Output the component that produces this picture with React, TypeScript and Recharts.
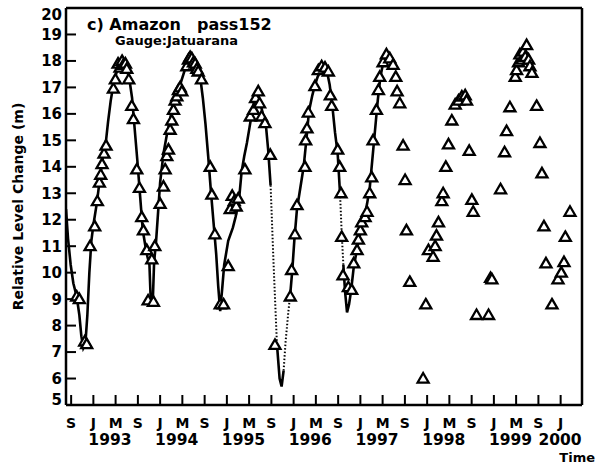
import React from 'react';
import { ComposedChart, Line, Scatter, XAxis, YAxis } from 'recharts';

// ---- Gauge (Jatuarana) daily level, decimal years / metres ----
const GAUGE_TIME = [
  1992.59, 1992.62, 1992.66, 1992.70, 1992.75, 1992.79, 1992.82, 1992.85, 1992.88, 1992.91,
  1992.94, 1992.97, 1993.00, 1993.05, 1993.10, 1993.15, 1993.19, 1993.22, 1993.26, 1993.30,
  1993.34, 1993.38, 1993.42, 1993.46, 1993.50, 1993.54, 1993.58, 1993.62, 1993.66, 1993.70,
  1993.74, 1993.78, 1993.81, 1993.84, 1993.86, 1993.89, 1993.91, 1993.94, 1993.97, 1994.00,
  1994.05, 1994.10, 1994.15, 1994.20, 1994.25, 1994.30, 1994.35, 1994.40, 1994.45, 1994.50,
  1994.55, 1994.60, 1994.64, 1994.68, 1994.72, 1994.76, 1994.80, 1994.84, 1994.87, 1994.90,
  1994.93, 1994.96, 1995.02, 1995.09, 1995.13, 1995.18, 1995.22, 1995.26, 1995.30, 1995.34,
  1995.38, 1995.42, 1995.46, 1995.50, 1995.54, 1995.58, 1995.62, 1995.655, 1995.70, 1995.75,
  1995.79, 1995.82, 1995.85, 1995.88, 1995.92, 1995.95, 1995.98, 1996.01, 1996.05, 1996.10,
  1996.15, 1996.19, 1996.23, 1996.28, 1996.32, 1996.36, 1996.41, 1996.46, 1996.50, 1996.54,
  1996.58, 1996.62, 1996.66, 1996.695, 1996.72, 1996.745, 1996.77, 1996.80, 1996.83, 1996.86,
  1996.90, 1996.95, 1997.00, 1997.05, 1997.10, 1997.14, 1997.18, 1997.22, 1997.26, 1997.30,
  1997.34, 1997.38, 1997.42,
];
const GAUGE_LEVEL = [
  12.4, 11.3, 10.3, 9.6, 9.1, 8.4, 7.6, 7.15, 7.3, 8.4,
  10.0, 11.2, 11.8, 12.6, 13.6, 14.5, 15.0, 15.7, 16.5, 17.1,
  17.5, 17.85, 18.05, 17.95, 17.7, 17.3, 16.6, 15.4, 14.2, 12.9,
  11.6, 11.0, 10.6, 10.3, 8.9, 8.9, 10.4, 11.2, 12.3, 13.4,
  14.5, 15.2, 15.8, 16.5, 16.9, 17.1, 17.5, 17.9, 18.15, 18.1,
  17.9, 17.4, 16.6, 15.6, 14.4, 13.1, 11.9, 10.7, 9.5, 8.55,
  9.4, 10.3, 11.2, 11.7, 12.1, 12.7, 13.8, 14.4, 14.9, 15.5,
  16.1, 16.6, 16.8, 16.4, 16.0, 15.7, 14.6, 13.3, 10.3, 7.3,
  6.0, 5.7, 6.3, 7.4, 8.5, 9.2, 10.1, 11.2, 12.4, 13.2,
  14.0, 15.0, 16.1, 16.7, 17.1, 17.4, 17.65, 17.75, 17.6, 17.1,
  16.3, 15.3, 14.5, 13.0, 11.5, 10.3, 9.3, 8.5, 8.8, 9.3,
  10.2, 10.9, 11.5, 12.0, 12.6, 13.2, 14.3, 15.4, 16.5, 17.4,
  17.9, 18.2, 18.3,
];
// spans where the gauge record is drawn dotted
const DOTTED_SPANS = [
  [1995.655, 1995.75],
  [1995.85, 1995.95],
  [1996.695, 1996.745],
];

// ---- TOPEX altimetry, pass 152 ----
const ALT_TIME = [
  1992.75, 1992.79, 1992.87, 1992.90,
  1992.95, 1993.02, 1993.06, 1993.09, 1993.11, 1993.13, 1993.16, 1993.19, 1993.30, 1993.33,
  1993.37, 1993.40, 1993.43, 1993.45, 1993.48, 1993.50, 1993.53, 1993.575, 1993.60,
  1993.65, 1993.69, 1993.725, 1993.75, 1993.80, 1993.82, 1993.875, 1993.90, 1993.92,
  1994.00, 1994.05, 1994.075, 1994.10, 1994.125, 1994.15, 1994.175, 1994.20, 1994.225,
  1994.25, 1994.275, 1994.30, 1994.325, 1994.40, 1994.425, 1994.45, 1994.475, 1994.50,
  1994.525, 1994.55, 1994.57, 1994.62, 1994.75, 1994.775, 1994.82, 1994.90, 1994.95,
  1995.02, 1995.05, 1995.08, 1995.11, 1995.14, 1995.17, 1995.27, 1995.35, 1995.40,
  1995.43, 1995.47, 1995.49, 1995.52, 1995.57, 1995.65, 1995.72,
  1995.95, 1995.97, 1996.02, 1996.05, 1996.17, 1996.18, 1996.20, 1996.22, 1996.32,
  1996.37, 1996.42, 1996.47, 1996.52, 1996.55, 1996.57, 1996.66, 1996.69, 1996.71,
  1996.72, 1996.74, 1996.82, 1996.87, 1996.90, 1996.95, 1996.97, 1997.00, 1997.02,
  1997.07, 1997.10, 1997.14, 1997.17, 1997.19, 1997.24, 1997.27, 1997.29, 1997.34,
  1997.39, 1997.44, 1997.49, 1997.53, 1997.55, 1997.59, 1997.64, 1997.67, 1997.69,
  1997.74, 1997.94, 1997.98, 1998.02, 1998.09, 1998.12, 1998.14, 1998.17, 1998.22,
  1998.24, 1998.28, 1998.32, 1998.37, 1998.42, 1998.47, 1998.52, 1998.57, 1998.59,
  1998.63, 1998.67, 1998.69, 1998.74, 1998.92, 1998.95, 1998.97, 1999.10, 1999.16,
  1999.19, 1999.24, 1999.32, 1999.34, 1999.37, 1999.39, 1999.42, 1999.44, 1999.47,
  1999.49, 1999.52, 1999.54, 1999.57, 1999.64, 1999.69, 1999.72, 1999.75, 1999.78,
  1999.87, 1999.96, 2000.01, 2000.05, 2000.07, 2000.14,
];
const ALT_LEVEL = [
  9.1, 9.0, 7.4, 7.3,
  11.0, 11.75, 12.7, 13.4, 13.7, 14.1, 14.5, 14.8, 16.95, 17.3,
  17.9, 17.75, 18.0, 17.85, 17.9, 17.7, 17.3, 16.3, 15.8,
  13.9, 13.2, 12.1, 11.6, 10.85, 8.95, 10.5, 8.9, 11.0,
  12.6, 13.25, 13.9, 14.4, 14.65, 15.4, 15.75, 16.15, 16.5,
  16.66, 16.9, 17.0, 16.85, 17.8, 18.05, 18.15, 18.1, 17.95,
  17.9, 17.7, 17.6, 17.3, 14.0, 12.95, 11.45, 8.8, 8.8,
  10.25, 12.4, 12.9, 12.7, 12.5, 12.8, 13.9, 15.9, 16.15,
  16.6, 16.85, 16.4, 15.9, 15.65, 14.45, 7.27,
  9.1, 10.1, 11.45, 12.55, 14.0, 15.0, 15.45, 16.05, 17.05,
  17.65, 17.8, 17.75, 17.6, 16.7, 16.3, 14.65, 14.0, 13.0,
  11.35, 9.9, 9.45, 9.35, 10.35, 10.85, 11.25, 11.6, 11.9,
  12.1, 12.3, 13.0, 13.6, 15.0, 16.15, 16.9, 17.4, 17.95,
  18.25, 18.1, 17.85, 17.4, 16.85, 16.4, 14.8, 13.5, 11.6,
  9.65, 6.0, 8.8, 10.85, 10.6, 11.0, 11.4, 11.9, 12.7,
  13.0, 14.0, 14.85, 15.75, 16.35, 16.5, 16.65, 16.7, 16.5,
  14.6, 12.75, 12.3, 8.4, 8.4, 9.8, 9.75, 13.15, 14.55,
  15.35, 16.25, 17.4, 17.65, 17.95, 18.25, 18.05, 18.35, 18.15,
  18.6, 18.05, 17.8, 17.55, 16.3, 14.9, 13.75, 11.75, 10.35,
  8.8, 9.75, 10.0, 10.4, 11.35, 12.3,
];

// ---- axes ----
const X_DOMAIN = [1992.59, 2000.32];
const X_TICKS = [
  1992.667, 1993, 1993.333, 1993.667, 1994, 1994.333, 1994.667, 1995, 1995.333, 1995.667,
  1996, 1996.333, 1996.667, 1997, 1997.333, 1997.667, 1998, 1998.333, 1998.667, 1999,
  1999.333, 1999.667, 2000,
];
const X_TICK_LABELS = [
  'S', 'J', 'M', 'S', 'J', 'M', 'S', 'J', 'M', 'S',
  'J', 'M', 'S', 'J', 'M', 'S', 'J', 'M', 'S', 'J',
  'M', 'S', 'J',
];
const YEAR_TICKS = [1993, 1994, 1995, 1996, 1997, 1998, 1999, 2000];
const YEAR_LABELS = ['1993', '1994', '1995', '1996', '1997', '1998', '1999', '2000'];
const Y_TICKS = [5, 6, 7, 8, 9, 10, 11, 12, 13, 14, 15, 16, 17, 18, 19, 20];

const FONT = '"DejaVu Sans", Arial, sans-serif';

const inSpan = (t: number, strict: boolean) =>
  DOTTED_SPANS.some(([a, b]) => (strict ? t > a && t < b : t >= a && t <= b));

const gaugeRows = GAUGE_TIME.map((t, i) => ({
  t,
  solid: inSpan(t, true) ? null : GAUGE_LEVEL[i],
  dotted: inSpan(t, false) ? GAUGE_LEVEL[i] : null,
}));
const altRows = ALT_TIME.map((t, i) => ({ t, h: ALT_LEVEL[i] }));

const Triangle = (props: any) => {
  const { cx, cy } = props;
  if (cx == null || cy == null) return null;
  return (
    <path
      d={`M${cx},${cy - 5.5}L${cx + 5.5},${cy + 4}L${cx - 5.5},${cy + 4}Z`}
      fill="#fff"
      stroke="#000"
      strokeWidth={2.3}
    />
  );
};

const XTick = (props: any) => {
  const { x, y, payload } = props;
  const idx = X_TICKS.indexOf(payload.value);
  const label = idx >= 0 ? X_TICK_LABELS[idx] : '';
  const yIdx = YEAR_TICKS.indexOf(payload.value);
  const isLast = yIdx === YEAR_TICKS.length - 1;
  return (
    <g>
      <text x={x} y={y + 13} textAnchor="middle" fontFamily={FONT} fontWeight="bold" fontSize={14} fill="#000">
        {label}
      </text>
      {yIdx >= 0 && (
        <text
          x={isLast ? x + 21 : x - 5}
          y={y + 30}
          textAnchor={isLast ? 'end' : 'start'}
          fontFamily={FONT}
          fontWeight="bold"
          fontSize={15.5}
          fill="#000"
        >
          {YEAR_LABELS[yIdx]}
        </text>
      )}
    </g>
  );
};

const YTick = (props: any) => {
  const { x, y, payload } = props;
  const v = payload.value;
  const shift = v === 20 ? 7 : v === 5 ? -5 : 0;
  return (
    <text x={x} y={y + shift} dy="0.36em" textAnchor="end" fontFamily={FONT} fontWeight="bold" fontSize={15} fill="#000">
      {v}
    </text>
  );
};

const YLabel = (props: any) => {
  const vb = props.viewBox || {};
  const cx = 18;
  const cy = (vb.y ?? 8) + (vb.height ?? 397) / 2;
  return (
    <text
      x={cx}
      y={cy}
      transform={`rotate(-90 ${cx} ${cy})`}
      textAnchor="middle"
      dy="0.36em"
      fontFamily={FONT}
      fontWeight="bold"
      fontSize={14}
      fill="#000"
    >
      Relative Level Change (m)
    </text>
  );
};

const TimeLabel = (props: any) => {
  const vb = props.viewBox || {};
  const x = (vb.x ?? 66) + (vb.width ?? 516) + 13;
  const y = (vb.y ?? 405) + 57;
  return (
    <text x={x} y={y} textAnchor="end" fontFamily={FONT} fontWeight="bold" fontSize={13} fill="#000">
      Time
    </text>
  );
};

export default function App() {
  const axisLine = { stroke: '#000', strokeWidth: 2.5 };
  const tickLine = { stroke: '#000', strokeWidth: 2 };
  return (
    <div style={{ position: 'absolute', left: 0, top: 0, background: '#fff' }}>
      <ComposedChart
        width={599}
        height={466}
        data={gaugeRows}
        margin={{ top: 7, right: 16, bottom: 0, left: 0 }}
      >
        <XAxis
          xAxisId="b"
          dataKey="t"
          type="number"
          domain={X_DOMAIN}
          allowDataOverflow
          ticks={X_TICKS}
          interval={0}
          height={61}
          axisLine={axisLine}
          tickLine={tickLine}
          tickSize={-10}
          tickMargin={20}
          tick={<XTick />}
          label={{ content: <TimeLabel /> }}
        />
        <XAxis
          xAxisId="top"
          dataKey="t"
          type="number"
          orientation="top"
          domain={X_DOMAIN}
          allowDataOverflow
          ticks={X_TICKS}
          interval={0}
          height={1}
          axisLine={axisLine}
          tickLine={tickLine}
          tickSize={-10}
          tick={false}
        />
        <YAxis
          yAxisId="l"
          type="number"
          domain={[5, 20]}
          ticks={Y_TICKS}
          interval={0}
          allowDataOverflow
          width={66}
          axisLine={axisLine}
          tickLine={tickLine}
          tickSize={-10}
          tickMargin={14}
          tick={<YTick />}
          label={{ content: <YLabel /> }}
        />
        <YAxis
          yAxisId="r"
          orientation="right"
          type="number"
          domain={[5, 20]}
          ticks={Y_TICKS}
          interval={0}
          allowDataOverflow
          width={1}
          axisLine={axisLine}
          tickLine={tickLine}
          tickSize={-10}
          tick={false}
        />
        <Line
          xAxisId="b"
          yAxisId="l"
          dataKey="dotted"
          stroke="#000"
          strokeWidth={2}
          strokeDasharray="1.5 2"
          dot={false}
          connectNulls={false}
          isAnimationActive={false}
        />
        <Line
          xAxisId="b"
          yAxisId="l"
          dataKey="solid"
          stroke="#000"
          strokeWidth={2.6}
          dot={false}
          connectNulls={false}
          isAnimationActive={false}
        />
        <Scatter
          xAxisId="b"
          yAxisId="l"
          data={altRows}
          dataKey="h"
          shape={<Triangle />}
          isAnimationActive={false}
        />
        <text x={87} y={30} fontFamily={FONT} fontWeight="bold" fontSize={16} fill="#000">
          c) Amazon
        </text>
        <text x={197} y={30} fontFamily={FONT} fontWeight="bold" fontSize={16} fill="#000">
          pass152
        </text>
        <text x={115} y={45} fontFamily={FONT} fontWeight="bold" fontSize={13} fill="#000">
          Gauge:Jatuarana
        </text>
      </ComposedChart>
    </div>
  );
}
